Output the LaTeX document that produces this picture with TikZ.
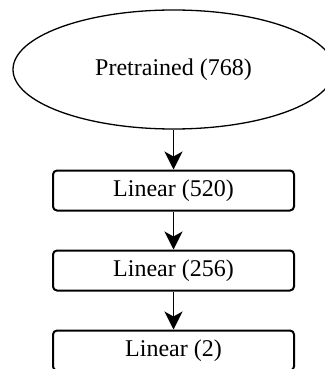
\documentclass[tikz,border=0pt]{standalone}
\usepackage{fontspec}
\setmainfont{Liberation Serif}
\usetikzlibrary{shapes.geometric,arrows.meta}

\begin{document}
\begin{tikzpicture}[x=0.5pt,y=-0.5pt,
        every node/.style={font=\fontsize{12}{14}\selectfont},
        layer/.style={shape=rectangle,rounded corners=2pt,draw=black,line width=1pt,minimum width=120.5pt,minimum height=20pt,inner sep=0pt},
        flow/.style={-{Stealth[length=9pt,width=9pt,inset=2.5pt]},line width=0.65pt}]
        \useasboundingbox (0,0) rectangle (325,369);
        \node[shape=ellipse,draw=black,line width=0.65pt,minimum width=160.5pt,minimum height=59.5pt,inner sep=0pt] (pre) at (173.5,69.5) {Pretrained (768)};
        \node[layer] (lin1) at (173.5,190.5) {Linear (520)};
        \node[layer] (lin2) at (173.5,270.5) {Linear (256)};
        \node[layer] (lin3) at (173.5,350.5) {Linear (2)};
        %edges
        \path[flow] (pre) edge (lin1);
        \path[flow] (lin1) edge (lin2);
        \path[flow] (lin2) edge (lin3);
\end{tikzpicture}
\end{document}
